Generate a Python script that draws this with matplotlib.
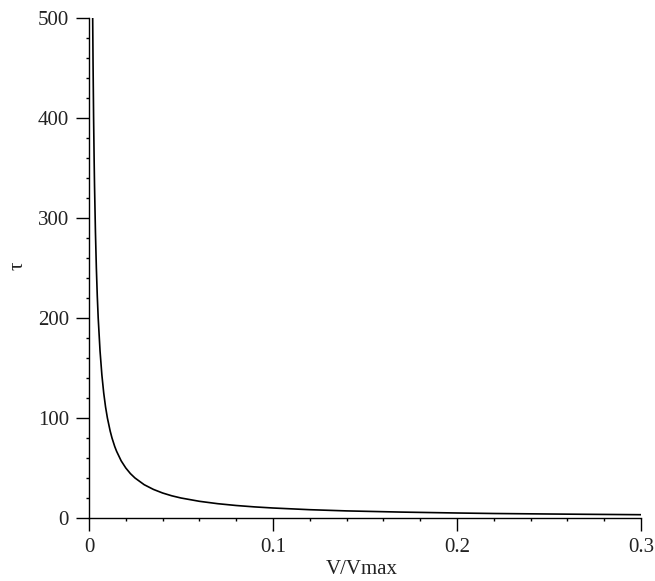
import matplotlib
matplotlib.use("Agg")
import matplotlib.pyplot as plt
from matplotlib.ticker import MultipleLocator

# Values
v_ratio = [0.002, 0.0022, 0.0025, 0.0028, 0.003, 0.0035, 0.004, 0.0045, 0.005, 0.006,
           0.007, 0.008, 0.009, 0.01, 0.0115, 0.0125, 0.014, 0.015, 0.0175, 0.02,
           0.0225, 0.025, 0.03, 0.035, 0.04, 0.045, 0.05, 0.06, 0.07, 0.08,
           0.09, 0.1, 0.12, 0.14, 0.15, 0.17, 0.2, 0.22, 0.25, 0.27, 0.3]
tau = [500, 455, 400, 357, 333, 286, 250, 222, 200, 167,
       143, 125, 111, 100, 87, 80, 71.4, 66.7, 57.1, 50,
       44.4, 40, 33.3, 28.6, 25, 22.2, 20, 16.7, 14.3, 12.5,
       11.1, 10, 8.3, 7.1, 6.7, 5.9, 5, 4.5, 4, 3.7, 3.3]

plt.rcParams['font.family'] = ['Liberation Serif', 'DejaVu Serif']

fig = plt.figure(figsize=(6.55, 5.81), dpi=100)
ax = fig.add_axes([89/655, 63/581, (641-89)/655, (518-18)/581])

ax.plot(v_ratio, tau, color='black', linewidth=1.2)

ax.set_xlim(0, 0.3)
ax.set_ylim(0, 500)
ax.spines['top'].set_visible(False)
ax.spines['right'].set_visible(False)
for s in ('left', 'bottom'):
    ax.spines[s].set_linewidth(1.0)

ax.xaxis.set_minor_locator(MultipleLocator(0.02))
ax.yaxis.set_minor_locator(MultipleLocator(20))
ax.set_xticks([0, 0.1, 0.2, 0.3])
ax.set_xticklabels(['0', '0.1', '0.2', '0.3'])
ax.set_yticks([0, 100, 200, 300, 400, 500])
ax.set_yticklabels(['0', '100', '200', '300', '400', '500'])

ax.tick_params(which='major', direction='out', length=9.5, width=1.0, pad=5, labelsize=15,
               colors='black', labelcolor='#222222')
ax.tick_params(which='minor', direction='out', length=2.5, width=1.0)

ax.set_xlabel('V/Vmax', fontsize=15, color='#222222')
ax.xaxis.set_label_coords((362 - 89) / 552, -(560 - 518) / 500)
ax.set_ylabel('τ', fontsize=15, color='#222222')
ax.yaxis.set_label_coords((28 - 89) / 552, (518 - 266) / 500)

fig.savefig('out.png', dpi=100)
